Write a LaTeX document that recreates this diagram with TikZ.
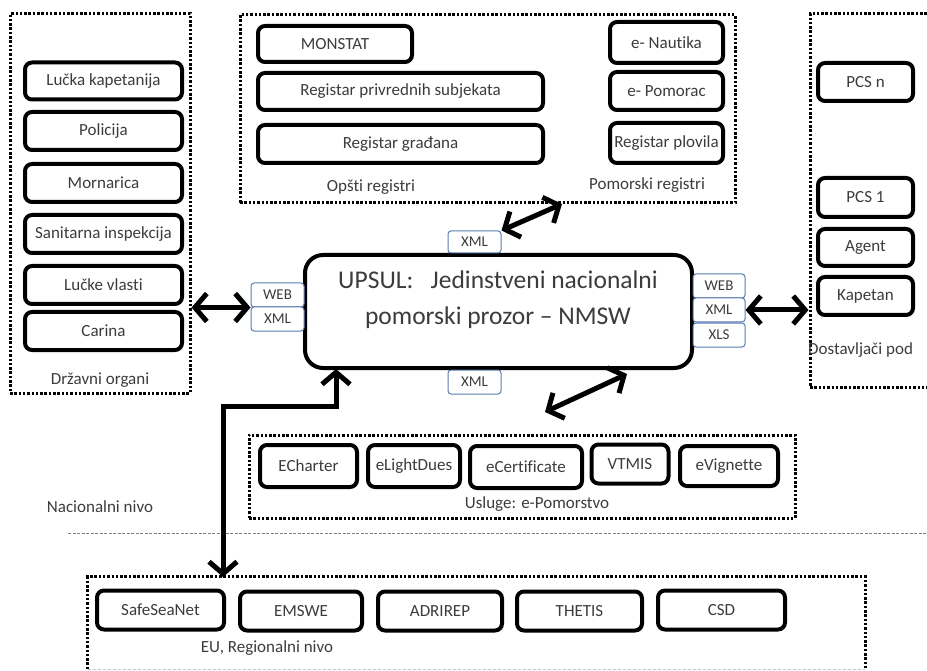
\documentclass[tikz,border=0pt]{standalone}
\usepackage{fontspec}
\setmainfont{Carlito}[Ligatures={TeX,NoCommon}]
\usetikzlibrary{arrows.meta}

\definecolor{txtgray}{HTML}{3C3C3C}
\definecolor{fmtblue}{HTML}{5B7DB1}

\newcommand{\boxfont}{\fontsize{17}{20}\selectfont}
\newcommand{\bigfont}{\fontsize{25.5}{36}\selectfont}
\newcommand{\fmtfont}{\fontsize{15}{17}\selectfont}

\tikzset{
  sys/.style={draw, line width=4pt, rounded corners=7pt, fill=white, text=txtgray, font=\boxfont, inner sep=0pt},
  grp/.style={draw, line width=3pt, dash pattern=on 2.5pt off 1.8pt, inner sep=0pt},
  fmt/.style={draw=fmtblue, line width=1pt, rounded corners=3pt, fill=white, text=txtgray, font=\fmtfont, inner sep=0pt, minimum width=53pt, minimum height=24pt},
  lbl/.style={text=txtgray, font=\boxfont, inner sep=0pt},
  link/.style={line width=5pt, {Straight Barb[length=12pt,width=28pt]}-{Straight Barb[length=12pt,width=28pt]}},
}

\begin{document}
\begin{tikzpicture}[x=1pt, y=-1pt]
  \useasboundingbox (0,0) rectangle (927,671);

  % grupe
  \node[grp, minimum width=180pt, minimum height=379pt] (drzavni) at (100,203.5) {};
  \node[grp, minimum width=495pt, minimum height=188pt] (registri) at (487.5,109) {};
  \node[grp, minimum width=160pt, minimum height=373pt] (dostav) at (890,200.5) {};
  \node[grp, minimum width=546pt, minimum height=83pt] (usluge) at (522,476.5) {};
  \node[minimum width=777pt, minimum height=92pt, inner sep=0pt] (eu) at (476.5,623) {};
  \draw[grp] (eu.south west) -- (eu.north west) -- (eu.north east) -- (eu.south east);
  \draw[gray!45, line width=0.8pt, dash pattern=on 3pt off 2pt] (eu.south west) -- (eu.south east);

  % nivo
  \draw[gray, line width=1pt, dash pattern=on 3pt off 1.5pt] (68,533) -- (927,533);
  \node[lbl] (nacnivo) at (100,507) {Nacionalni nivo};

  % drzavni organi
  \node[sys, minimum width=157pt, minimum height=37pt] (lk) at (103.5,81) {Lučka kapetanija};
  \node[sys, minimum width=157pt, minimum height=38pt] (pol) at (103.5,131) {Policija};
  \node[sys, minimum width=157pt, minimum height=38pt] (mor) at (103.5,183) {Mornarica};
  \node[sys, minimum width=157pt, minimum height=38pt] (san) at (103.5,234) {Sanitarna inspekcija};
  \node[sys, minimum width=157pt, minimum height=38pt] (lv) at (103.5,285) {Lučke vlasti};
  \node[sys, minimum width=157pt, minimum height=38pt] (car) at (103.5,331) {Carina};
  \node[lbl] (drzlbl) at (100,380) {Državni organi};

  % registri
  \node[sys, minimum width=154pt, minimum height=36pt] (monstat) at (335,44) {MONSTAT};
  \node[sys, minimum width=285pt, minimum height=37pt] (rps) at (400.5,91.5) {Registar privrednih subjekata};
  \node[sys, minimum width=285pt, minimum height=38pt] (rg) at (400.5,144) {Registar građana};
  \node[sys, minimum width=113pt, minimum height=41pt] (naut) at (666.5,42.5) {e- Nautika};
  \node[sys, minimum width=113pt, minimum height=38pt] (pomorac) at (666.5,91) {e- Pomorac};
  \node[sys, minimum width=113pt, minimum height=40pt] (plov) at (666.5,143) {Registar plovila};
  \node[lbl] (opstilbl) at (371,187) {Opšti registri};
  \node[lbl] (pomlbl) at (647,185) {Pomorski registri};

  % dostavljaci
  \node[sys, minimum width=95pt, minimum height=38pt] (pcsn) at (865.5,82) {PCS n};
  \node[sys, minimum width=95pt, minimum height=39pt] (pcs1) at (865.5,197.5) {PCS 1};
  \node[sys, minimum width=95pt, minimum height=37pt] (agent) at (865.5,247.5) {Agent};
  \node[sys, minimum width=95pt, minimum height=38pt] (kap) at (865.5,296) {Kapetan};
  \node[lbl, anchor=west] (dostlbl) at (808,350) {Dostavljači pod};

  % NMSW
  \node[draw, line width=4pt, rounded corners=18pt, fill=white, minimum width=387pt, minimum height=113pt] (upsul) at (498.5,311.5) {};
  \node[align=center, text=txtgray, font=\bigfont, inner sep=0pt] (upsultxt) at (498,300) {UPSUL:\ \ \ Jedinstveni nacionalni\\pomorski prozor – NMSW};

  \node[fmt, minimum height=22pt] (xmltop) at (474.5,242) {XML};
  \node[fmt] (webL) at (277.5,295) {WEB};
  \node[fmt] (xmlL) at (277.5,319) {XML};
  \node[fmt, minimum width=52pt] (webR) at (719,286) {WEB};
  \node[fmt, minimum width=52pt] (xmlR) at (719,310) {XML};
  \node[fmt, minimum width=52pt] (xlsR) at (719,335) {XLS};
  \node[fmt] (xmlbot) at (474.5,382) {XML};

  % usluge
  \node[sys, minimum width=97pt, minimum height=42pt] (ech) at (308.5,466) {ECharter};
  \node[sys, minimum width=92pt, minimum height=42pt] (eld) at (414,466) {eLightDues};
  \node[sys, minimum width=112pt, minimum height=42pt] (ecert) at (526,467) {eCertificate};
  \node[sys, minimum width=77pt, minimum height=39pt] (vtmis) at (630,464) {VTMIS};
  \node[sys, minimum width=98pt, minimum height=40pt] (evig) at (729,466) {eVignette};
  \node[lbl] (uslbl) at (537,504) {Usluge: e-Pomorstvo};

  % EU
  \node[sys, minimum width=127pt, minimum height=39pt] (ssn) at (160.5,610) {SafeSeaNet};
  \node[sys, minimum width=122pt, minimum height=39pt] (emswe) at (301,611) {EMSWE};
  \node[sys, minimum width=124pt, minimum height=39pt] (adrirep) at (440,611) {ADRIREP};
  \node[sys, minimum width=125pt, minimum height=39pt] (thetis) at (579.5,611) {THETIS};
  \node[sys, minimum width=127pt, minimum height=39pt] (csd) at (721.5,610) {CSD};
  \node[lbl] (eulbl) at (267,648) {EU, Regionalni nivo};

  % veze
  \coordinate (regin) at (562,204);
  \coordinate (uslin) at (545,412);
  \coordinate (upout) at (627,374);
  \coordinate (euin) at (223,577);
  \coordinate (upin) at (336,369);
  \draw[link] (drzavni.east |- webL.south west) -- (webL.south west);
  \draw[link] (xmlR.east) -- (dostav.west |- xmlR.east);
  \draw[link] (xmltop.north east) -- (regin);
  \draw[link] (uslin) -- (upout);
  \draw[link] (euin) -- ++(0,-171) -| (upin);
\end{tikzpicture}
\end{document}
